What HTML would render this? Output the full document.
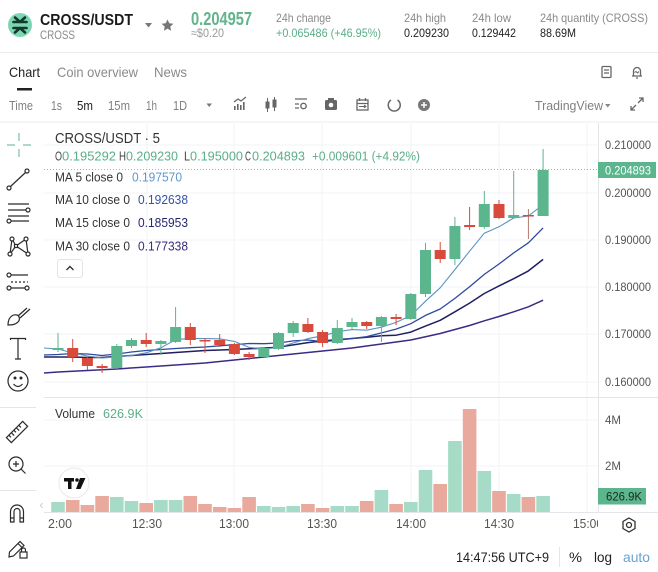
<!DOCTYPE html>
<html><head><meta charset="utf-8"><style>
html,body{margin:0;padding:0;background:#fff;width:658px;height:572px;overflow:hidden}
svg{display:block}
text{font-family:"Liberation Sans",Arial,sans-serif}
</style></head><body>
<svg width="658" height="572" viewBox="0 0 658 572" xmlns="http://www.w3.org/2000/svg">
<rect width="658" height="572" fill="#fff"/>
<!-- HEADER -->
<circle cx="20" cy="25" r="12" fill="#7dd6b3"/>
<g stroke="#123a2c" stroke-width="2.6" stroke-linecap="round" fill="none">
<path d="M13.5 22 H26.5 M13.5 28 H26.5 M15 17.5 L20 22 M25 17.5 L20 22 M15 32.5 L20 28 M25 32.5 L20 28"/>
</g>
<text x="40" y="25" font-size="16" font-weight="bold" fill="#1a1a1a" textLength="93" lengthAdjust="spacingAndGlyphs">CROSS/USDT</text>
<text x="40" y="39" font-size="12" fill="#8a8a8a" textLength="35" lengthAdjust="spacingAndGlyphs">CROSS</text>
<path d="M145 23 L152 23 L148.5 27.5 Z" fill="#777"/>
<path d="M167.5 19.5 L169.3 23.3 L173.4 23.8 L170.3 26.6 L171.1 30.7 L167.5 28.6 L163.9 30.7 L164.7 26.6 L161.6 23.8 L165.7 23.3 Z" fill="#777"/>
<text x="191" y="25" font-size="18" font-weight="bold" fill="#63b38d" textLength="61" lengthAdjust="spacingAndGlyphs">0.204957</text>
<text x="191" y="37" font-size="12" fill="#9a9a9a" textLength="33" lengthAdjust="spacingAndGlyphs">≈$0.20</text>
<text x="276" y="22" font-size="12" fill="#8a8a8a" textLength="55" lengthAdjust="spacingAndGlyphs">24h change</text>
<text x="276" y="37" font-size="12" fill="#5aae88" textLength="105" lengthAdjust="spacingAndGlyphs">+0.065486 (+46.95%)</text>
<text x="404" y="22" font-size="12" fill="#8a8a8a" textLength="42" lengthAdjust="spacingAndGlyphs">24h high</text>
<text x="404" y="37" font-size="12" fill="#222" textLength="45" lengthAdjust="spacingAndGlyphs">0.209230</text>
<text x="472" y="22" font-size="12" fill="#8a8a8a" textLength="39" lengthAdjust="spacingAndGlyphs">24h low</text>
<text x="472" y="37" font-size="12" fill="#222" textLength="44" lengthAdjust="spacingAndGlyphs">0.129442</text>
<text x="540" y="22" font-size="12" fill="#8a8a8a" textLength="108" lengthAdjust="spacingAndGlyphs">24h quantity (CROSS)</text>
<text x="540" y="37" font-size="12" fill="#222" textLength="36" lengthAdjust="spacingAndGlyphs">88.69M</text>
<line x1="0" y1="52.5" x2="658" y2="52.5" stroke="#ececec" stroke-width="1"/>
<!-- TABS -->
<text x="9" y="77" font-size="14" fill="#222" textLength="31" lengthAdjust="spacingAndGlyphs">Chart</text>
<text x="57" y="77" font-size="14" fill="#8a8a8a" textLength="81" lengthAdjust="spacingAndGlyphs">Coin overview</text>
<text x="154" y="77" font-size="14" fill="#8a8a8a" textLength="33" lengthAdjust="spacingAndGlyphs">News</text>
<rect x="17" y="88" width="15" height="2.5" fill="#222"/>
<g fill="none" stroke="#666" stroke-width="1.3">
<rect x="602" y="66.5" width="9" height="11" rx="1"/>
<path d="M604 70 H609 M604 73 H609"/>
<path d="M632 76 H642 M633.5 76 V71 a3.5 3.5 0 0 1 7 0 V76 M636 78 h2"/>
<path d="M634.5 72.5 l1.5 -1 l1.5 1.5 l1.5 -1.5" stroke-width="1"/>
</g>
<!-- TOOLBAR -->
<text x="9" y="110" font-size="12.5" fill="#808080" textLength="24" lengthAdjust="spacingAndGlyphs">Time</text>
<text x="51" y="110" font-size="12.5" fill="#808080" textLength="11" lengthAdjust="spacingAndGlyphs">1s</text>
<text x="77" y="110" font-size="12.5" fill="#222" textLength="16" lengthAdjust="spacingAndGlyphs">5m</text>
<text x="108" y="110" font-size="12.5" fill="#808080" textLength="22" lengthAdjust="spacingAndGlyphs">15m</text>
<text x="146" y="110" font-size="12.5" fill="#808080" textLength="11" lengthAdjust="spacingAndGlyphs">1h</text>
<text x="173" y="110" font-size="12.5" fill="#808080" textLength="14" lengthAdjust="spacingAndGlyphs">1D</text>
<path d="M206.5 103.5 L212 103.5 L209.25 107 Z" fill="#777"/>
<g fill="#666" stroke="#666">
<!-- indicators -->
<path d="M234 102 L238 99 L241 101 L246 97" fill="none" stroke-width="1.2"/>
<rect x="234" y="106" width="1.6" height="4" stroke="none"/><rect x="237" y="104" width="1.6" height="6" stroke="none"/><rect x="240" y="105" width="1.6" height="5" stroke="none"/><rect x="243" y="102" width="1.6" height="8" stroke="none"/>
<!-- candles -->
<line x1="267.5" y1="98" x2="267.5" y2="112" stroke-width="1"/><rect x="265.5" y="101.5" width="4" height="7" stroke="none"/>
<line x1="274.5" y1="97" x2="274.5" y2="111" stroke-width="1"/><rect x="272.5" y="99.5" width="4" height="8" stroke="none"/>
<!-- template -->
<path d="M295 99 H307 M295 104 H299 M295 108 H299" fill="none" stroke-width="1.3"/><circle cx="303.5" cy="106" r="2.7" fill="none" stroke-width="1.4"/>
<!-- camera -->
<rect x="325" y="100" width="12" height="10" rx="1.5" stroke="none"/><rect x="328" y="98" width="6" height="3" stroke="none"/><circle cx="331" cy="105" r="2.3" fill="#fff" stroke="none"/>
<!-- calendar -->
<rect x="357" y="100" width="11" height="10" fill="none" stroke-width="1.3"/><path d="M357 103.5 H368 M359.5 98 V101 M365.5 98 V101" stroke-width="1.3"/><path d="M359 106.5 H366 M364 105 L366 106.5 L364 108" fill="none" stroke-width="1"/>
<!-- refresh -->
<path d="M391 100 A6 6 0 1 0 397.5 100" fill="none" stroke-width="1.5"/>
<!-- plus -->
<circle cx="424" cy="105" r="6" stroke="none" fill="#777"/><path d="M421 105 H427 M424 102 V108" stroke="#fff" stroke-width="1.5"/>
</g>
<text x="535" y="110" font-size="12.5" fill="#808080" textLength="68" lengthAdjust="spacingAndGlyphs">TradingView</text>
<path d="M605 104 L610.5 104 L607.75 107.5 Z" fill="#888"/>
<g stroke="#666" stroke-width="1.3" fill="none">
<path d="M631 110 L636 105 M638 103 L643 98 M639 98 H643 V102 M631 106 V110 H635"/>
</g>
<line x1="0" y1="122" x2="658" y2="122" stroke="#ececec" stroke-width="1"/>

<!-- GRID -->
<g stroke="#f1f3f6" stroke-width="1">
<line x1="44" y1="145" x2="598" y2="145"/><line x1="44" y1="193" x2="598" y2="193"/><line x1="44" y1="240" x2="598" y2="240"/><line x1="44" y1="287" x2="598" y2="287"/><line x1="44" y1="334" x2="598" y2="334"/><line x1="44" y1="382" x2="598" y2="382"/>
<line x1="44" y1="420" x2="598" y2="420"/><line x1="44" y1="466" x2="598" y2="466"/>
<line x1="147" y1="123" x2="147" y2="512"/><line x1="234" y1="123" x2="234" y2="512"/><line x1="322" y1="123" x2="322" y2="512"/><line x1="411" y1="123" x2="411" y2="512"/><line x1="499" y1="123" x2="499" y2="512"/><line x1="587" y1="123" x2="587" y2="512"/>
</g>
<line x1="44" y1="397.5" x2="658" y2="397.5" stroke="#e3e5ea"/>
<line x1="44" y1="512.5" x2="658" y2="512.5" stroke="#e3e5ea"/>
<line x1="598.5" y1="123" x2="598.5" y2="536" stroke="#e3e5ea"/>
<line x1="44" y1="169.5" x2="598" y2="169.5" stroke="#a9b2b0" stroke-width="1" stroke-dasharray="1 2"/>

<!-- VOLUME -->
<g>
<rect x="51.2" y="502" width="13.6" height="10" fill="#a6dcc7"/>
<rect x="65.9" y="500" width="13.6" height="12" fill="#eaa99d"/>
<rect x="80.6" y="505" width="13.6" height="7" fill="#eaa99d"/>
<rect x="95.3" y="496" width="13.6" height="16" fill="#eaa99d"/>
<rect x="110" y="497" width="13.6" height="15" fill="#a6dcc7"/>
<rect x="124.7" y="501" width="13.6" height="11" fill="#a6dcc7"/>
<rect x="139.4" y="503" width="13.6" height="9" fill="#eaa99d"/>
<rect x="154.1" y="500" width="13.6" height="12" fill="#a6dcc7"/>
<rect x="168.8" y="500" width="13.6" height="12" fill="#a6dcc7"/>
<rect x="183.5" y="496" width="13.6" height="16" fill="#eaa99d"/>
<rect x="198.2" y="504" width="13.6" height="8" fill="#eaa99d"/>
<rect x="212.9" y="507" width="13.6" height="5" fill="#eaa99d"/>
<rect x="227.6" y="508" width="13.6" height="4" fill="#eaa99d"/>
<rect x="242.3" y="497" width="13.6" height="15" fill="#eaa99d"/>
<rect x="257" y="506" width="13.6" height="6" fill="#a6dcc7"/>
<rect x="271.7" y="507" width="13.6" height="5" fill="#a6dcc7"/>
<rect x="286.4" y="506" width="13.6" height="6" fill="#a6dcc7"/>
<rect x="301.1" y="504" width="13.6" height="8" fill="#eaa99d"/>
<rect x="315.8" y="508" width="13.6" height="4" fill="#eaa99d"/>
<rect x="330.5" y="506" width="13.6" height="6" fill="#a6dcc7"/>
<rect x="345.2" y="506" width="13.6" height="6" fill="#a6dcc7"/>
<rect x="359.9" y="501" width="13.6" height="11" fill="#eaa99d"/>
<rect x="374.6" y="490" width="13.6" height="22" fill="#a6dcc7"/>
<rect x="389.3" y="504" width="13.6" height="8" fill="#eaa99d"/>
<rect x="404" y="502" width="13.6" height="10" fill="#a6dcc7"/>
<rect x="418.7" y="470" width="13.6" height="42" fill="#a6dcc7"/>
<rect x="433.4" y="484" width="13.6" height="28" fill="#eaa99d"/>
<rect x="448.1" y="441" width="13.6" height="71" fill="#a6dcc7"/>
<rect x="462.8" y="409" width="13.6" height="103" fill="#eaa99d"/>
<rect x="477.5" y="471" width="13.6" height="41" fill="#a6dcc7"/>
<rect x="492.2" y="491" width="13.6" height="21" fill="#eaa99d"/>
<rect x="506.9" y="494" width="13.6" height="18" fill="#a6dcc7"/>
<rect x="521.6" y="497" width="13.6" height="15" fill="#eaa99d"/>
<rect x="536.3" y="496" width="13.6" height="16" fill="#a6dcc7"/>
</g>
<path d="M42.5 503 L40.5 505.5 L42.5 508" stroke="#ccc" fill="none" stroke-width="1"/>

<!-- MA LINES -->
<g fill="none" stroke-linejoin="round">
<polyline stroke="#3b2b86" stroke-width="1.5" points="44,373 58,372 87.4,370.5 116.8,369 146.2,367 175.6,365 205,363 234.4,360 263.8,357 293.2,354 322.6,351 352,348 381.4,344 410.8,340 440.2,333.5 469.6,325.5 484.3,320.8 499,316.5 513.7,311.8 528.4,306.8 543.1,300.2"/>
<polyline stroke="#1f1f62" stroke-width="1.5" points="44,357 58,357 72.7,357 87.4,357.5 102.1,357.5 116.8,356.5 131.5,355.5 146.2,354.5 160.9,353.5 175.6,352.5 190.3,351.5 205,350.5 219.7,350 234.4,349.5 249.1,348.8 263.8,348.1 278.5,347.1 293.2,344.9 307.9,342.6 322.6,340.9 337.3,339.7 352,338.5 366.7,337.3 381.4,335.7 396.1,335.2 410.8,332.1 425.5,326.1 440.2,320.3 454.9,311.8 469.6,303.1 484.3,293.5 499,285.9 513.7,278.7 528.4,270.9 543.1,259.4"/>
<polyline stroke="#2e4a9e" stroke-width="1.3" points="44,355 58,354.5 72.7,353.5 87.4,354 102.1,355.5 116.8,354 131.5,352 146.2,350.5 160.9,349.5 175.6,348.5 190.3,347.7 205,347 219.7,345.8 234.4,344.6 249.1,343.5 263.8,343.7 278.5,343 293.2,340.9 307.9,340 322.6,341.6 337.3,340.4 352,338.5 366.7,336.6 381.4,332.9 396.1,329.1 410.8,323.7 425.5,315.4 440.2,309 454.9,298.4 469.6,286.8 484.3,274.4 499,264 513.7,252.9 528.4,242.8 543.1,227.9"/>
<polyline stroke="#5b92c2" stroke-width="1.1" points="44,348 58,349 72.7,353 87.4,356 102.1,358 116.8,357 131.5,355.4 146.2,352.8 160.9,347.8 175.6,339.6 190.3,338.4 205,338.6 219.7,338.8 234.4,341.4 249.1,347.4 263.8,349 278.5,347.4 293.2,343 307.9,338.6 322.6,335.8 337.3,331.8 352,329.6 366.7,330.2 381.4,327.2 396.1,322.4 410.8,315.6 425.5,301.2 440.2,287.8 454.9,269.6 469.6,251.2 484.3,233.2 499,226.8 513.7,218 528.4,216 543.1,204.6"/>
</g>

<!-- CANDLES -->
<g stroke-width="1">
<g stroke="#5bb58d" fill="#5bb58d">
<line x1="58" y1="333" x2="58" y2="352"/><rect x="52.5" y="348" width="11" height="2" stroke="none"/>
<line x1="116.8" y1="344" x2="116.8" y2="369"/><rect x="111.3" y="346" width="11" height="22" stroke="none"/>
<line x1="131.5" y1="338" x2="131.5" y2="348"/><rect x="126" y="340" width="11" height="6" stroke="none"/>
<line x1="160.9" y1="340" x2="160.9" y2="355"/><rect x="155.4" y="341" width="11" height="3" stroke="none"/>
<line x1="175.6" y1="307" x2="175.6" y2="343"/><rect x="170.1" y="327" width="11" height="15" stroke="none"/>
<line x1="263.8" y1="347" x2="263.8" y2="357"/><rect x="258.3" y="348" width="11" height="9" stroke="none"/>
<line x1="278.5" y1="332" x2="278.5" y2="350"/><rect x="273" y="333" width="11" height="16" stroke="none"/>
<line x1="293.2" y1="321" x2="293.2" y2="337"/><rect x="287.7" y="323" width="11" height="10" stroke="none"/>
<line x1="337.3" y1="320" x2="337.3" y2="344"/><rect x="331.8" y="328" width="11" height="15" stroke="none"/>
<line x1="352" y1="318" x2="352" y2="329"/><rect x="346.5" y="322" width="11" height="5" stroke="none"/>
<line x1="381.4" y1="316" x2="381.4" y2="342"/><rect x="375.9" y="317" width="11" height="9" stroke="none"/>
<line x1="410.8" y1="293" x2="410.8" y2="320"/><rect x="405.3" y="294" width="11" height="25" stroke="none"/>
<line x1="425.5" y1="243" x2="425.5" y2="297"/><rect x="420" y="250" width="11" height="44" stroke="none"/>
<line x1="454.9" y1="217" x2="454.9" y2="265"/><rect x="449.4" y="226" width="11" height="33" stroke="none"/>
<line x1="484.3" y1="191" x2="484.3" y2="229"/><rect x="478.8" y="204" width="11" height="23" stroke="none"/>
<line x1="513.7" y1="171" x2="513.7" y2="218"/><rect x="508.2" y="215" width="11" height="3" stroke="none"/>
<line x1="543.1" y1="149" x2="543.1" y2="216"/><rect x="537.6" y="170" width="11" height="46" stroke="none"/>
</g>
<g stroke="#d84a3c" fill="#d84a3c">
<line x1="72.7" y1="339" x2="72.7" y2="362"/><rect x="67.2" y="348" width="11" height="9" stroke="none"/>
<line x1="87.4" y1="357" x2="87.4" y2="370"/><rect x="81.9" y="358" width="11" height="8" stroke="none"/>
<line x1="102.1" y1="364" x2="102.1" y2="373"/><rect x="96.6" y="366" width="11" height="2" stroke="none"/>
<line x1="146.2" y1="333" x2="146.2" y2="347"/><rect x="140.7" y="340" width="11" height="4" stroke="none"/>
<line x1="190.3" y1="323" x2="190.3" y2="345"/><rect x="184.8" y="327" width="11" height="13" stroke="none"/>
<line x1="205" y1="338" x2="205" y2="353"/><rect x="199.5" y="340" width="11" height="1.5" stroke="none"/>
<line x1="219.7" y1="334" x2="219.7" y2="347"/><rect x="214.2" y="340" width="11" height="5" stroke="none"/>
<line x1="234.4" y1="343" x2="234.4" y2="355"/><rect x="228.9" y="344" width="11" height="10" stroke="none"/>
<line x1="249.1" y1="352" x2="249.1" y2="360"/><rect x="243.6" y="354" width="11" height="3" stroke="none"/>
<line x1="307.9" y1="318" x2="307.9" y2="333"/><rect x="302.4" y="324" width="11" height="8" stroke="none"/>
<line x1="322.6" y1="330" x2="322.6" y2="347"/><rect x="317.1" y="332" width="11" height="11" stroke="none"/>
<line x1="366.7" y1="321" x2="366.7" y2="329"/><rect x="361.2" y="322" width="11" height="4" stroke="none"/>
<line x1="396.1" y1="314" x2="396.1" y2="325"/><rect x="390.6" y="317" width="11" height="2" stroke="none"/>
<line x1="440.2" y1="242" x2="440.2" y2="263"/><rect x="434.7" y="250" width="11" height="9" stroke="none"/>
<line x1="469.6" y1="207" x2="469.6" y2="230"/><rect x="464.1" y="225" width="11" height="2" stroke="none"/>
<line x1="499" y1="200" x2="499" y2="219"/><rect x="493.5" y="204" width="11" height="14" stroke="none"/>
<line x1="528.4" y1="209" x2="528.4" y2="239" stroke="#b07a6a"/><rect x="522.9" y="215" width="11" height="1.5" stroke="none"/>
</g>
</g>

<!-- LEGEND -->
<text x="55" y="143" font-size="15" fill="#333" textLength="105" lengthAdjust="spacingAndGlyphs">CROSS/USDT · 5</text>
<g font-size="12.5">
<text x="55" y="160.5" fill="#444" textLength="7" lengthAdjust="spacingAndGlyphs">O</text>
<text x="62" y="160.5" fill="#5aae88" textLength="54" lengthAdjust="spacingAndGlyphs">0.195292</text>
<text x="119" y="160.5" fill="#444" textLength="7" lengthAdjust="spacingAndGlyphs">H</text>
<text x="126" y="160.5" fill="#5aae88" textLength="52" lengthAdjust="spacingAndGlyphs">0.209230</text>
<text x="184" y="160.5" fill="#444" textLength="6" lengthAdjust="spacingAndGlyphs">L</text>
<text x="190" y="160.5" fill="#5aae88" textLength="53" lengthAdjust="spacingAndGlyphs">0.195000</text>
<text x="245" y="160.5" fill="#444" textLength="6" lengthAdjust="spacingAndGlyphs">C</text>
<text x="252" y="160.5" fill="#5aae88" textLength="53" lengthAdjust="spacingAndGlyphs">0.204893</text>
<text x="312" y="160.5" fill="#5aae88" textLength="108" lengthAdjust="spacingAndGlyphs">+0.009601 (+4.92%)</text>
</g>
<g font-size="13">
<text x="55" y="181.5" fill="#333" textLength="68" lengthAdjust="spacingAndGlyphs">MA 5 close 0</text>
<text x="132" y="181.5" fill="#5e97cf" textLength="50" lengthAdjust="spacingAndGlyphs">0.197570</text>
<text x="55" y="204" fill="#333" textLength="75" lengthAdjust="spacingAndGlyphs">MA 10 close 0</text>
<text x="138" y="204" fill="#3353a6" textLength="50" lengthAdjust="spacingAndGlyphs">0.192638</text>
<text x="55" y="227" fill="#333" textLength="75" lengthAdjust="spacingAndGlyphs">MA 15 close 0</text>
<text x="138" y="227" fill="#242870" textLength="50" lengthAdjust="spacingAndGlyphs">0.185953</text>
<text x="55" y="250.5" fill="#333" textLength="75" lengthAdjust="spacingAndGlyphs">MA 30 close 0</text>
<text x="138" y="250.5" fill="#3a2b7e" textLength="50" lengthAdjust="spacingAndGlyphs">0.177338</text>
</g>
<rect x="57.5" y="259.5" width="25" height="18" rx="3" fill="#fff" stroke="#e2e4e8"/>
<path d="M66.5 270 L70 266.5 L73.5 270" fill="none" stroke="#333" stroke-width="1.4"/>
<text x="55" y="418" font-size="12.5" fill="#333" textLength="40" lengthAdjust="spacingAndGlyphs">Volume</text>
<text x="103" y="418" font-size="12.5" fill="#5aae88" textLength="40" lengthAdjust="spacingAndGlyphs">626.9K</text>

<!-- TV logo -->
<circle cx="74" cy="483" r="15" fill="#fff" stroke="#ececec" stroke-width="1.2"/>
<g fill="#111">
<rect x="64" y="478" width="10" height="3.5"/><rect x="68" y="478" width="3.5" height="11"/>
<circle cx="77" cy="480" r="1.8"/>
<path d="M80 478 L85.5 478 L80.5 489 L76 489 Z"/>
</g>

<!-- PRICE AXIS -->
<g font-size="12" fill="#555">
<text x="605" y="149" textLength="46" lengthAdjust="spacingAndGlyphs">0.210000</text>
<text x="605" y="197" textLength="46" lengthAdjust="spacingAndGlyphs">0.200000</text>
<text x="605" y="244" textLength="46" lengthAdjust="spacingAndGlyphs">0.190000</text>
<text x="605" y="291" textLength="46" lengthAdjust="spacingAndGlyphs">0.180000</text>
<text x="605" y="338" textLength="46" lengthAdjust="spacingAndGlyphs">0.170000</text>
<text x="605" y="386" textLength="46" lengthAdjust="spacingAndGlyphs">0.160000</text>
<text x="605" y="424" textLength="16" lengthAdjust="spacingAndGlyphs">4M</text>
<text x="605" y="470" textLength="16" lengthAdjust="spacingAndGlyphs">2M</text>
</g>
<rect x="598" y="162" width="58" height="16" fill="#5bb58d"/>
<text x="605" y="174.5" font-size="12" fill="#fff" textLength="46" lengthAdjust="spacingAndGlyphs">0.204893</text>
<rect x="598" y="488" width="48" height="16.5" fill="#5bb58d"/>
<text x="606" y="500.5" font-size="12" fill="#1b2a22" textLength="36" lengthAdjust="spacingAndGlyphs">626.9K</text>

<!-- TIME AXIS -->
<g font-size="12.5" fill="#555">
<text x="48" y="528" textLength="24" lengthAdjust="spacingAndGlyphs">2:00</text>
<text x="132" y="528" textLength="30" lengthAdjust="spacingAndGlyphs">12:30</text>
<text x="219" y="528" textLength="30" lengthAdjust="spacingAndGlyphs">13:00</text>
<text x="307" y="528" textLength="30" lengthAdjust="spacingAndGlyphs">13:30</text>
<text x="396" y="528" textLength="30" lengthAdjust="spacingAndGlyphs">14:00</text>
<text x="484" y="528" textLength="30" lengthAdjust="spacingAndGlyphs">14:30</text>
<text x="573" y="528" textLength="30" lengthAdjust="spacingAndGlyphs">15:00</text>
</g>
<rect x="598" y="513" width="60" height="23" fill="#fff"/>
<path d="M629 518 L635 521.5 L635 528.5 L629 532 L623 528.5 L623 521.5 Z" fill="none" stroke="#333" stroke-width="1.3"/>
<circle cx="629" cy="525" r="2.5" fill="none" stroke="#333" stroke-width="1.3"/>

<!-- BOTTOM BAR -->
<text x="456" y="562" font-size="14" fill="#222" textLength="93" lengthAdjust="spacingAndGlyphs">14:47:56 UTC+9</text>
<line x1="559.5" y1="547" x2="559.5" y2="567" stroke="#e3e5ea"/>
<text x="569" y="562" font-size="14" fill="#222" textLength="13" lengthAdjust="spacingAndGlyphs">%</text>
<text x="594" y="562" font-size="14" fill="#222" textLength="18" lengthAdjust="spacingAndGlyphs">log</text>
<text x="623" y="562" font-size="14" fill="#6aa3cf" textLength="27" lengthAdjust="spacingAndGlyphs">auto</text>

<!-- LEFT TOOLBAR -->
<g stroke="#7cc3a6" stroke-width="1.2"><path d="M19 133 V141 M19 149 V157 M7 145 H15 M23 145 H31"/></g>
<g fill="none" stroke="#2a2a2a" stroke-width="1.2">
<line x1="10.5" y1="186.5" x2="25.5" y2="172.5"/><circle cx="9" cy="188" r="2" fill="#fff"/><circle cx="27" cy="171" r="2" fill="#fff"/>
<path d="M8 204 H29 M8 210 H26 M8 216 H29 M11 221 H29"/><circle cx="28" cy="210" r="2" fill="#fff"/><circle cx="9" cy="221" r="2" fill="#fff"/>
<path d="M12 239 L10 254 M12 239 L16 246 M26 239 L16 246 M26 239 L28 254 M16 246 L28 254 M16 246 L10 254"/>
<circle cx="12" cy="239" r="2" fill="#fff"/><circle cx="26" cy="239" r="2" fill="#fff"/><circle cx="10" cy="254" r="2" fill="#fff"/><circle cx="28" cy="254" r="2" fill="#fff"/><rect x="14.5" y="244.5" width="3" height="3" fill="#fff"/>
<path d="M11 275 H28 M11 288 H25"/><path d="M11 282 H28" stroke-dasharray="2 2"/><circle cx="9" cy="275" r="2" fill="#fff"/><circle cx="9" cy="288" r="2" fill="#fff"/><circle cx="27" cy="288" r="2" fill="#fff"/>
<path d="M8 325 C8 318 12 314 17 315 C20 316 20 320 18 322 C15 325 11 325 8 325 Z M18 316 L27 308 M20 318 L30 309"/>
<path d="M10.5 340 V338.5 H25.5 V340 M18 338.5 V359 M15 359 H21"/>
<circle cx="18" cy="381" r="10"/><path d="M13.5 384 Q18 389 22.5 384"/>
<circle cx="15" cy="378" r="0.9" fill="#2a2a2a"/><circle cx="21" cy="378" r="0.9" fill="#2a2a2a"/>
<g transform="rotate(-45 17 432)"><rect x="5.5" y="428.5" width="23" height="7"/><path d="M9 428.5 V431.5 M12.5 428.5 V432.5 M16 428.5 V431.5 M19.5 428.5 V432.5 M23 428.5 V431.5"/></g>
<circle cx="16" cy="464" r="7"/><path d="M21 469 L25.5 473.5 M13 464 H19 M16 461 V467"/>
<path d="M10.5 522 V511.5 a6.5 6.5 0 0 1 13 0 V522 H20 V511.5 a3 3 0 0 0 -6 0 V522 Z M10.5 518 H14 M20 518 H23.5"/>
<path d="M9 557 L9.5 552 L20 541.5 L24 545.5 L13.5 556 Z M18 543.5 L22 547.5"/>
<rect x="20" y="552" width="7" height="6"/><path d="M21.5 552 V550 a2 2 0 0 1 4 0 V552"/>
</g>
<g stroke="#e5e5e5"><line x1="0" y1="407.5" x2="36" y2="407.5"/><line x1="0" y1="490.5" x2="36" y2="490.5"/></g>
</svg>
</body></html>
